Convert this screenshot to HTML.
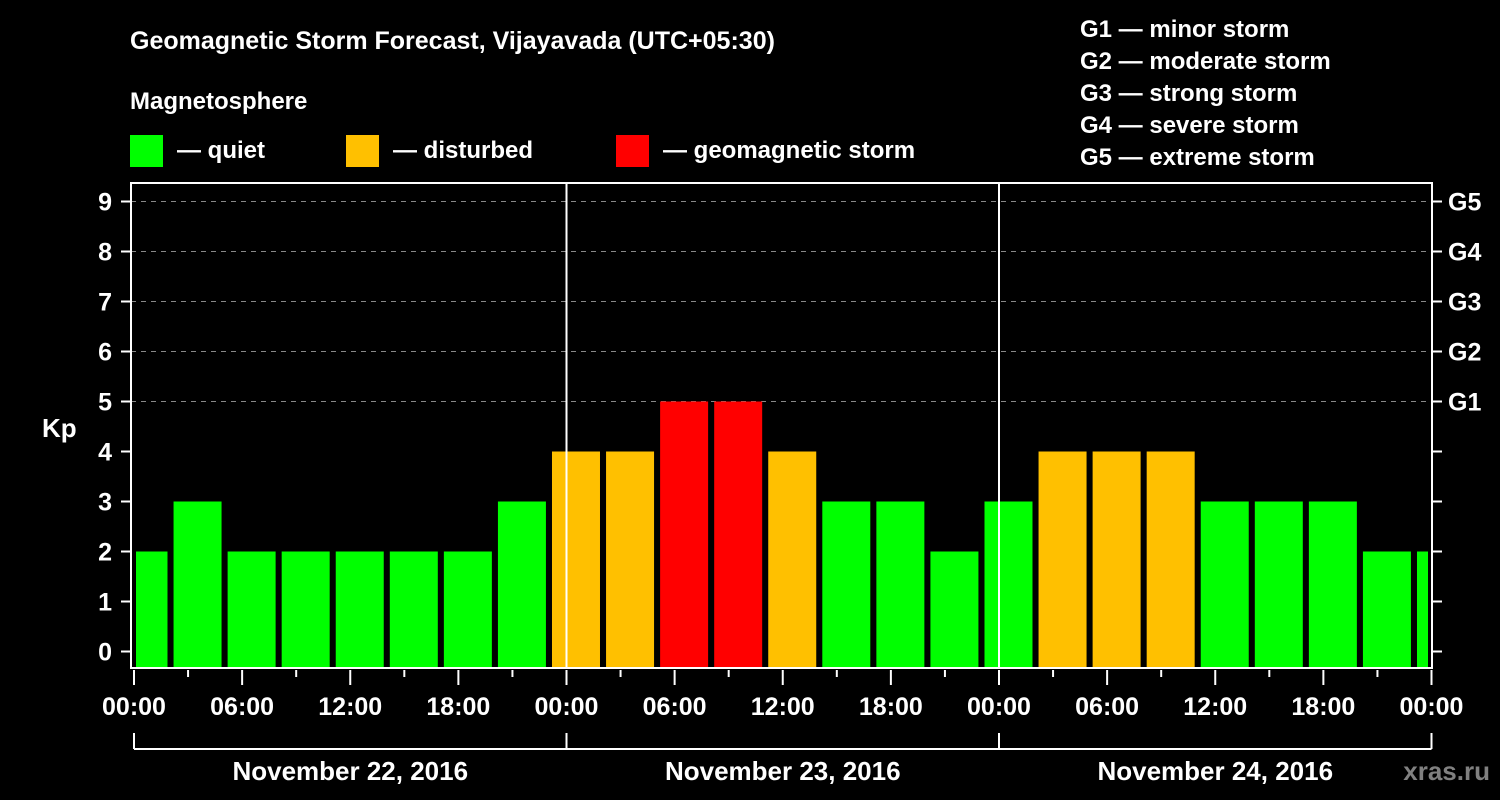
<!DOCTYPE html>
<html><head><meta charset="utf-8"><style>
html,body{margin:0;padding:0;background:#000;}
svg{display:block;font-family:"Liberation Sans",Arial,sans-serif;font-weight:bold;}
</style></head><body>
<svg id="chart" width="1500" height="800" viewBox="0 0 1500 800">
<rect width="1500" height="800" fill="#000"/>
<text x="130" y="49" fill="#fff" font-size="25">Geomagnetic Storm Forecast, Vijayavada (UTC+05:30)</text>
<text x="130" y="109" fill="#fff" font-size="24">Magnetosphere</text>
<g><rect x="130" y="135" width="33" height="32" fill="#00ff00"/><text x="177" y="158" fill="#fff" font-size="24">— quiet</text></g>
<g><rect x="346" y="135" width="33" height="32" fill="#ffc000"/><text x="393" y="158" fill="#fff" font-size="24">— disturbed</text></g>
<g><rect x="616" y="135" width="33" height="32" fill="#ff0000"/><text x="663" y="158" fill="#fff" font-size="24">— geomagnetic storm</text></g>
<g fill="#fff" font-size="24">
<text x="1080" y="37">G1 — minor storm</text>
<text x="1080" y="69">G2 — moderate storm</text>
<text x="1080" y="101">G3 — strong storm</text>
<text x="1080" y="133">G4 — severe storm</text>
<text x="1080" y="165">G5 — extreme storm</text>
</g>
<text x="42" y="437" fill="#fff" font-size="26">Kp</text>
<text x="1490" y="780" fill="#808080" font-size="26" text-anchor="end">xras.ru</text>
<g id="grid"></g>
<g id="bars"></g>
<g id="axes"></g>
</svg>
<script>
const kpValues=[2,3,2,2,2,2,2,3,4,4,5,5,4,3,3,2,3,4,4,4,3,3,3,2,2];
const kpTicks=[0,1,2,3,4,5,6,7,8,9];
const gLabels=["G1","G2","G3","G4","G5"];
const hourLabels=["00:00","06:00","12:00","18:00"];
const dayLabels=["November 22, 2016","November 23, 2016","November 24, 2016"];
const NS="http://www.w3.org/2000/svg";
const X0=134,DAYW=432.5,L=131,R=1432,T=183,B=668;
const y=v=>651.5-50*v;
const xh=h=>X0+h*DAYW/24;
function mk(tag,attrs,parent){const e=document.createElementNS(NS,tag);for(const k in attrs)e.setAttribute(k,attrs[k]);parent.appendChild(e);return e;}
const grid=document.getElementById('grid'),bars=document.getElementById('bars'),axes=document.getElementById('axes');
kpTicks.forEach(v=>{
  if(v>=5){const g=mk('line',{x1:L,x2:R,y1:y(v),y2:y(v),stroke:'#888','stroke-dasharray':'5,5','stroke-width':1},grid);
  
  }
  const t=mk('line',{x1:121,x2:L,y1:y(v),y2:y(v),stroke:'#fff','stroke-width':2},axes);
  
  
  const rt=mk('line',{x1:R,x2:1442,y1:y(v),y2:y(v),stroke:'#fff','stroke-width':2},axes);
  
  
  const l=mk('text',{x:112,y:y(v)+9,fill:'#fff','font-size':25,'text-anchor':'end'},axes);l.textContent=v;
  
  
});
gLabels.forEach((g,i)=>{
  const l=mk('text',{x:1448,y:y(5+i)+9,fill:'#fff','font-size':25},axes);l.textContent=g;
  
  
});
const color=v=>v>=5?'#ff0000':(v>=4?'#ffc000':'#00ff00');
kpValues.forEach((v,k)=>{
  const h=-0.5+3*k; // 3-hour interval start in local time
  let x1=xh(h)-5.5,x2=x1+48;
  x1=Math.max(x1,136);x2=Math.min(x2,1428);
  const b=mk('rect',{x:x1,y:y(v),width:x2-x1,height:667-y(v),fill:color(v)},bars);
  
  
});
// frame
const f=mk('path',{d:`M${L},${T} H${R} V${B} H${L} Z`,fill:'none',stroke:'#fff','stroke-width':2},axes);


for(let d=0;d<=3;d++){
  const x=X0+d*DAYW;
  if(d==1||d==2){const s=mk('line',{x1:x,x2:x,y1:T,y2:B,stroke:'#fff','stroke-width':2},axes);
  
  }
  const br=mk('line',{x1:x,x2:x,y1:733,y2:749,stroke:'#fff','stroke-width':2},axes);
  
  
}
const bl=mk('line',{x1:X0,x2:X0+3*DAYW,y1:749,y2:749,stroke:'#fff','stroke-width':2},axes);


for(let h=0;h<=72;h+=3){
  const major=h%6==0;
  const t=mk('line',{x1:xh(h),x2:xh(h),y1:670,y2:major?685:677,stroke:'#fff','stroke-width':2},axes);
  
  
  if(major){const l=mk('text',{x:xh(h),y:715,fill:'#fff','font-size':25,'text-anchor':'middle'},axes);
  l.textContent=h==72?hourLabels[0]:hourLabels[(h%24)/6];
  
  }
}
dayLabels.forEach((d,i)=>{
  const l=mk('text',{x:X0+(i+0.5)*DAYW,y:780,fill:'#fff','font-size':26,'text-anchor':'middle'},axes);l.textContent=d;
  
  
});
</script>
</body></html>
